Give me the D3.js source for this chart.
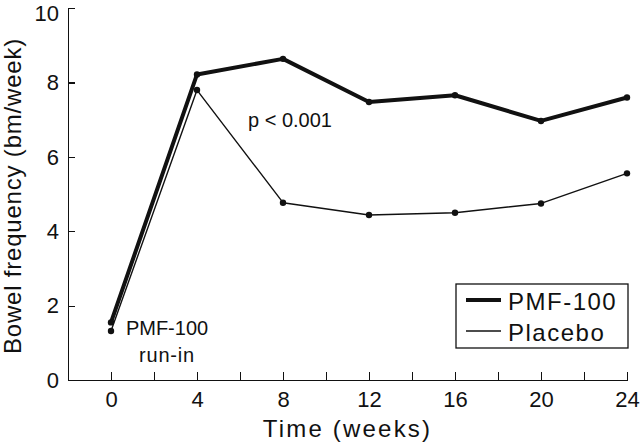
<!DOCTYPE html>
<html lang="en">
<head>
<meta charset="UTF-8">
<title>Bowel frequency</title>
<script src="https://d3js.org/d3.v7.min.js"></script>
<style>
  body { margin: 0; background: #fff; }
  svg { font-family: 'Liberation Sans', Arial, sans-serif; }
  .axis path, .axis line { stroke: #111; stroke-width: 1.3px; shape-rendering: crispEdges; }
  .axis text { font-size: 22px; fill: #111; }
</style>
</head>
<body>
<svg id="chart" width="640" height="444"></svg>
<script>
  // data
  const weeks = [0, 4, 8, 12, 16, 20, 24];
  const pmf100 = [1.55, 8.22, 8.64, 7.48, 7.66, 6.97, 7.60];
  const placebo = [1.32, 7.80, 4.77, 4.44, 4.50, 4.75, 5.56];
  const xTickLabels = [0, 4, 8, 12, 16, 20, 24];
  const yTickLabels = [0, 2, 4, 6, 8, 10];

  const svg = d3.select("#chart");
  const mLeft = 68, mRight = 627, mTop = 8.3, mBottom = 380;

  const x = d3.scaleLinear().domain([-2, 24]).range([mLeft, mRight]);
  const y = d3.scaleLinear().domain([0, 10]).range([mBottom, mTop]);

  // x axis: ticks every 2 weeks, labels every 4
  const xAxis = svg.append("g")
    .attr("class", "axis")
    .attr("transform", `translate(0,${mBottom})`)
    .call(d3.axisBottom(x)
      .tickValues(d3.range(-2, 25, 2))
      .tickSize(-8)
      .tickSizeOuter(0)
      .tickFormat(d => xTickLabels.includes(d) ? d : ""));
  xAxis.selectAll("text").attr("dy", "0.71em").attr("y", 11);

  // y axis
  const yAxis = svg.append("g")
    .attr("class", "axis")
    .attr("transform", `translate(${mLeft},0)`)
    .call(d3.axisLeft(y)
      .tickValues(yTickLabels)
      .tickSize(-7)
      .tickSizeOuter(0));
  yAxis.selectAll("text").attr("x", -9);
  // top label sits a little lower so it is not clipped
  yAxis.selectAll(".tick text").filter(d => d === 10).attr("y", 5);

  // axis titles
  svg.append("text")
    .attr("x", (mLeft + mRight) / 2)
    .attr("y", 437)
    .attr("text-anchor", "middle")
    .attr("font-size", 24)
    .attr("letter-spacing", 2.2)
    .attr("fill", "#111")
    .text("Time (weeks)");

  svg.append("text")
    .attr("transform", `translate(21,196) rotate(-90)`)
    .attr("text-anchor", "middle")
    .attr("font-size", 24)
    .attr("letter-spacing", 0.8)
    .attr("fill", "#111")
    .text("Bowel frequency (bm/week)");

  const series = [
    { name: "PMF-100", values: pmf100, width: 4 },
    { name: "Placebo", values: placebo, width: 1.4 }
  ];

  const line = d3.line()
    .x((d, i) => x(weeks[i]))
    .y(d => y(d));

  series.forEach(s => {
    svg.append("path")
      .datum(s.values)
      .attr("d", line)
      .attr("fill", "none")
      .attr("stroke", "#111")
      .attr("stroke-width", s.width)
      .attr("stroke-linejoin", "round");

    svg.selectAll(null)
      .data(s.values)
      .enter()
      .append("circle")
      .attr("cx", (d, i) => x(weeks[i]))
      .attr("cy", d => y(d))
      .attr("r", 3.2)
      .attr("fill", "#111");
  });

  // annotations
  svg.append("text")
    .attr("x", 248)
    .attr("y", 127)
    .attr("font-size", 20)
    .attr("fill", "#111")
    .text("p < 0.001");

  svg.append("text")
    .attr("x", 167)
    .attr("y", 335)
    .attr("text-anchor", "middle")
    .attr("font-size", 20)
    .attr("fill", "#111")
    .text("PMF-100");

  svg.append("text")
    .attr("x", 167)
    .attr("y", 362)
    .attr("text-anchor", "middle")
    .attr("font-size", 20)
    .attr("letter-spacing", 0.8)
    .attr("fill", "#111")
    .text("run-in");

  // legend
  const legend = svg.append("g");
  legend.append("rect")
    .attr("x", 456)
    .attr("y", 284)
    .attr("width", 172)
    .attr("height", 64)
    .attr("fill", "#fff")
    .attr("stroke", "#111")
    .attr("stroke-width", 1.3);

  series.forEach((s, i) => {
    const ly = 300 + i * 31;
    legend.append("line")
      .attr("x1", 466).attr("x2", 501)
      .attr("y1", ly).attr("y2", ly)
      .attr("stroke", "#111")
      .attr("stroke-width", s.width);
    legend.append("text")
      .attr("x", 508)
      .attr("y", ly + 10)
      .attr("font-size", 24)
      .attr("letter-spacing", 1.5)
      .attr("fill", "#111")
      .text(s.name);
  });
</script>
</body>
</html>
